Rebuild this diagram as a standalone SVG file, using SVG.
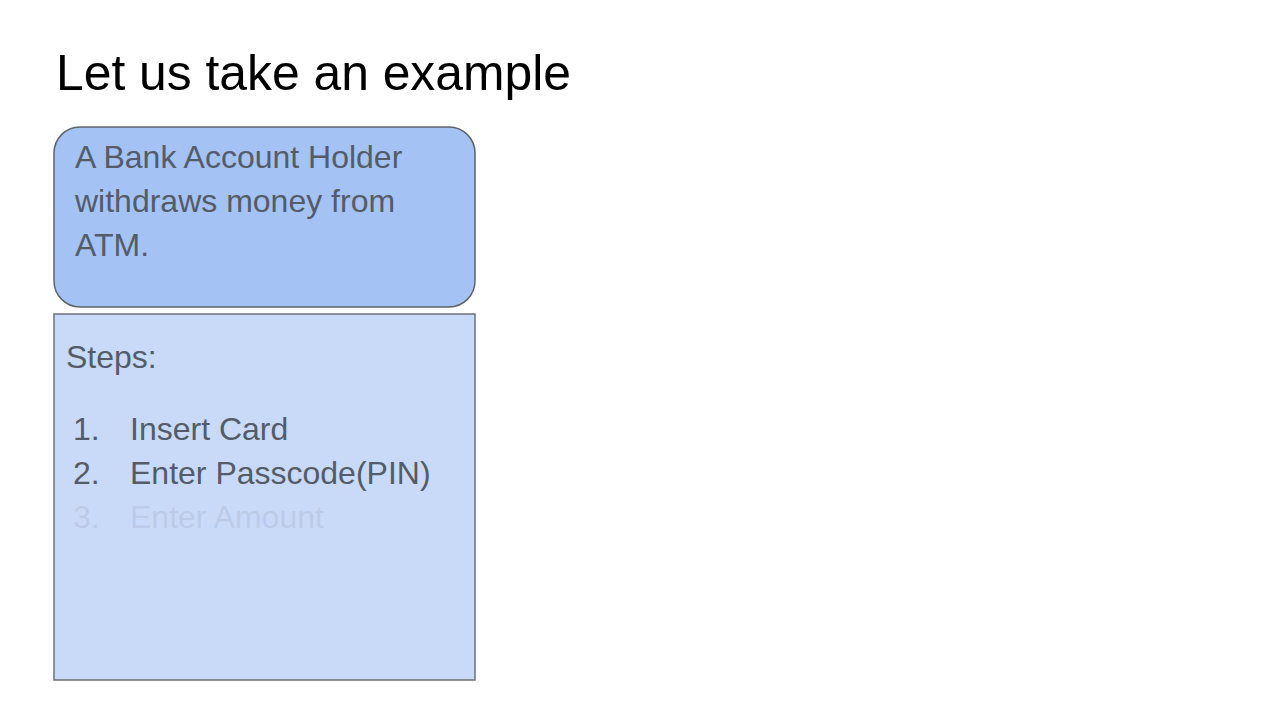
<svg xmlns="http://www.w3.org/2000/svg" width="1280" height="720" viewBox="0 0 1280 720">
<style>
.t{font-family:"Liberation Sans",Arial,sans-serif;fill:#535c68;font-size:32px}
</style>
<rect width="1280" height="720" fill="#ffffff"/>
<text x="56" y="90" font-family="Liberation Sans,Arial,sans-serif" font-size="49.8" fill="#000">Let us take an example</text>
<g id="scenario">
<rect x="54" y="127" width="421" height="180" rx="26" fill="#a4c2f4" stroke="#5f6368" stroke-width="1.5"/>
<text class="t" x="75" y="168">A Bank Account Holder</text>
<text class="t" x="75" y="212">withdraws money from</text>
<text class="t" x="75" y="256">ATM.</text>
</g>
<g id="steps">
<rect x="54" y="314" width="421" height="366" fill="#c9daf8" stroke="#6d7278" stroke-width="1.5"/>
<text class="t" x="66" y="368">Steps:</text>
<text class="t" x="73" y="440">1.</text>
<text class="t" x="130" y="440">Insert Card</text>
<text class="t" x="73" y="484">2.</text>
<text class="t" x="130" y="484">Enter Passcode(PIN)</text>
<g opacity="0.1">
<text class="t" x="73" y="528">3.</text>
<text class="t" x="130" y="528">Enter Amount</text>
</g>
</g>
</svg>
